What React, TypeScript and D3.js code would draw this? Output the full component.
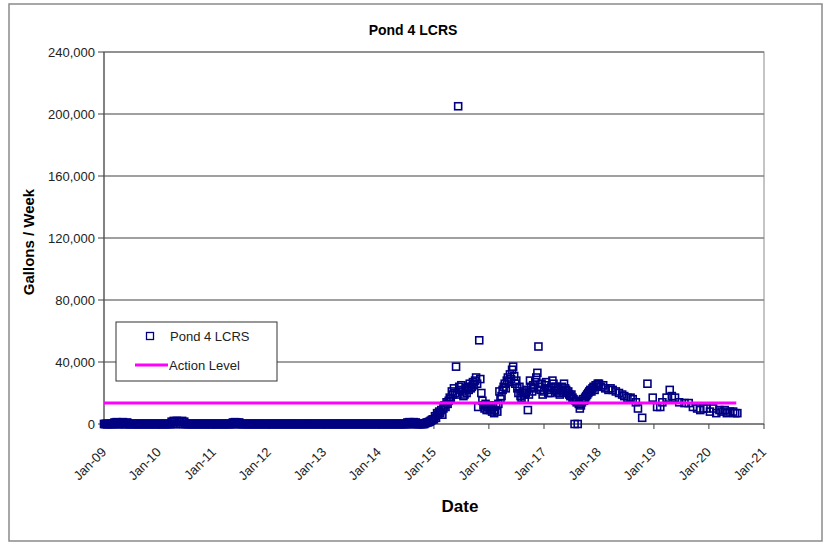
import * as d3 from 'd3'

const WIDTH = 830
const HEIGHT = 545
const MARGIN = { top: 52, right: 66, bottom: 121, left: 104 }
const FONT = '"Liberation Sans", Arial, sans-serif'

const TITLE = 'Pond 4 LCRS'
const Y_TITLE = 'Gallons / Week'
const X_TITLE = 'Date'
const SERIES_NAME = 'Pond 4 LCRS'
const ACTION_NAME = 'Action Level'

const yTicks = [0, 40000, 80000, 120000, 160000, 200000, 240000]
const xTickYears = [2009, 2010, 2011, 2012, 2013, 2014, 2015, 2016, 2017, 2018, 2019, 2020, 2021]

const ACTION_LEVEL = 13500
const actionYears = [2009.0, 2020.5]

// weekly flow readings, one value per week of the year
const weekly2009 = [
  0, 0, 0, 0, 0, 0, 0, 0, 0, 0, 1000, 0, 1200,
  0, 0, 0, 1000, 0, 1200, 0, 0, 0, 1000, 0, 0, 0,
  0, 0, 0, 0, 0, 0, 0, 0, 0, 0, 0, 0, 0,
  0, 0, 0, 0, 0, 0, 0, 0, 0, 0, 0, 0, 0,
]
const weekly2010 = [
  0, 0, 0, 0, 0, 0, 0, 0, 0, 0, 0, 0, 1500,
  0, 2000, 1500, 0, 2000, 0, 1800, 1500, 0, 2000, 0, 1500, 0,
  0, 0, 0, 0, 0, 0, 0, 0, 0, 0, 0, 0, 0,
  0, 0, 0, 0, 0, 0, 0, 0, 0, 0, 0, 0, 0,
]
const weekly2011 = [
  0, 0, 0, 0, 0, 0, 0, 0, 0, 0, 0, 0, 0,
  0, 0, 0, 0, 0, 1000, 0, 1200, 0, 1000, 0, 1000, 0,
  0, 0, 0, 0, 0, 0, 0, 0, 0, 0, 0, 0, 0,
  0, 0, 0, 0, 0, 0, 0, 0, 0, 0, 0, 0, 0,
]
const weekly2012 = [
  0, 0, 0, 0, 0, 0, 0, 0, 0, 0, 0, 0, 0,
  0, 0, 0, 0, 0, 0, 0, 0, 0, 0, 0, 0, 0,
  0, 0, 0, 0, 0, 0, 0, 0, 0, 0, 0, 0, 0,
  0, 0, 0, 0, 0, 0, 0, 0, 0, 0, 0, 0, 0,
]
const weekly2013 = [
  0, 0, 0, 0, 0, 0, 0, 0, 0, 0, 0, 0, 0,
  0, 0, 0, 0, 0, 0, 0, 0, 0, 0, 0, 0, 0,
  0, 0, 0, 0, 0, 0, 0, 0, 0, 0, 0, 0, 0,
  0, 0, 0, 0, 0, 0, 0, 0, 0, 0, 0, 0, 0,
]
const weekly2014 = [
  0, 0, 0, 0, 0, 0, 0, 0, 0, 0, 0, 0, 0,
  0, 0, 0, 0, 0, 0, 0, 0, 0, 0, 0, 0, 0,
  0, 1000, 0, 1200, 0, 1000, 0, 1200, 0, 1000, 0, 0, 0,
  0, 0, 0, 0, 0, 500, 800, 1000, 1200, 1500, 2000, 2500, 3000,
]
const weekly2015 = [
  3000, 5000, 4000, 7000, 6000, 8000, 7000, 9000, 6000, 10000, 12000, 11000, 14000,
  13000, 15000, 17000, 16000, 21000, 19000, 23000, 20000, 37000, 19000, 205000, 24000, 22000,
  25000, 21000, 18000, 19000, 23000, 20000, 24000, 22000, 26000, 23000, 24000, 27000, 25000,
  28000, 30000, 26000, 11000, 54000, 29000, 20000, 15000, 12000, 10000, 13000, 9000, 11000,
]
const weekly2016 = [
  12000, 9000, 10000, 8000, 11000, 7000, 9000, 12000, 8000, 13000, 21000, 16000, 18000,
  22000, 24000, 26000, 23000, 28000, 30000, 27000, 32000, 29000, 35000, 37000, 31000, 26000,
  28000, 23000, 20000, 24000, 18000, 17000, 21000, 19000, 16000, 20000, 22000, 9000, 19000,
  28000, 24000, 21000, 25000, 23000, 27000, 30000, 33000, 50000, 24000, 22000, 26000, 19000,
]
const weekly2017 = [
  21000, 25000, 27000, 23000, 20000, 22000, 20000, 24000, 28000, 26000, 22000, 24000, 21000,
  23000, 20000, 19000, 22000, 24000, 21000, 26000, 23000, 22000, 20000, 21000, 19000, 18000,
  19000, 17000, 16000, 0, 15000, 14000, 0, 13000, 10000, 12000, 14000, 16000, 15000,
  17000, 18000, 19000, 20000, 21000, 22000, 21000, 23000, 24000, 22000, 25000, 24000, 26000,
]
// later years were read less often: [week of year, gallons]
const readings2018 = [
  [0, 26000], [2, 24000], [4, 25000], [6, 23000], [9, 22000], [11, 23000], [13, 22000],
  [16, 21000], [19, 20000], [22, 19000], [24, 18000], [27, 17000], [30, 17000], [32, 16000],
  [35, 14000], [37, 10000], [41, 4000], [46, 26000], [51, 17000],
]
const readings2019 = [
  [3, 11000], [6, 11000], [8, 14000], [12, 17000], [15, 22000], [17, 18000], [20, 17000],
  [24, 14000], [29, 13500], [33, 13500], [37, 11000], [41, 10000], [44, 9000], [47, 10000],
  [50, 10000],
]
const readings2020 = [
  [1, 8000], [4, 10000], [7, 7000], [10, 9000], [12, 8000], [15, 9000], [17, 7000],
  [20, 8000], [23, 8000], [25, 7000], [27, 7000],
]

const weeklyByYear: [number, number[]][] = [
  [2009, weekly2009], [2010, weekly2010], [2011, weekly2011], [2012, weekly2012],
  [2013, weekly2013], [2014, weekly2014], [2015, weekly2015], [2016, weekly2016],
  [2017, weekly2017],
]
const sparseByYear: [number, number[][]][] = [
  [2018, readings2018], [2019, readings2019], [2020, readings2020],
]

const weekDate = (year: number, week: number) => new Date(year, 0, 1 + 7 * week)
const yearDate = (y: number) => new Date(Math.floor(y), Math.round((y % 1) * 12), 1)

export default function App() {
  const points: { date: Date; value: number }[] = []
  weeklyByYear.forEach(([year, vals]) =>
    vals.forEach((v, i) => points.push({ date: weekDate(year, i), value: v }))
  )
  sparseByYear.forEach(([year, rows]) =>
    rows.forEach(([w, v]) => points.push({ date: weekDate(year, w), value: v }))
  )

  const innerWidth = WIDTH - MARGIN.left - MARGIN.right
  const innerHeight = HEIGHT - MARGIN.top - MARGIN.bottom

  const xScale = d3.scaleTime()
    .domain([new Date(2009, 0, 1), new Date(2021, 0, 1)])
    .range([0, innerWidth])

  const yScale = d3.scaleLinear()
    .domain([0, 240000])
    .range([innerHeight, 0])

  const fmtY = d3.format(',')
  const fmtX = d3.timeFormat('%b-%y')
  const size = 7

  return (
    <svg
      width={WIDTH}
      height={HEIGHT}
      style={{ position: 'absolute', left: 0, top: 0, background: '#fff' }}
      fontFamily={FONT}
    >
      {/* outer chart border */}
      <rect x={9} y={4} width={813} height={537} fill="#fff" stroke="#8a8a8a" strokeWidth={1.5} />

      <text x={413} y={35} textAnchor="middle" fontSize={14} fontWeight="bold" fill="#000">
        {TITLE}
      </text>

      <g transform={`translate(${MARGIN.left}, ${MARGIN.top})`}>
        {/* plot area border */}
        <rect x={0} y={0} width={innerWidth} height={innerHeight} fill="none" stroke="#8a8a8a" strokeWidth={1} />

        {/* gridlines + y labels */}
        {yTicks.map(t => (
          <g key={t}>
            {t > 0 && (
              <line x1={0} x2={innerWidth} y1={yScale(t)} y2={yScale(t)} stroke="#808080" strokeWidth={1.5} />
            )}
            <line x1={-6} x2={0} y1={yScale(t)} y2={yScale(t)} stroke="#404040" strokeWidth={1} />
            <text x={-9} y={yScale(t)} dy="0.35em" textAnchor="end" fontSize={13} fill="#222">
              {fmtY(t)}
            </text>
          </g>
        ))}

        {/* axes */}
        <line x1={0} x2={0} y1={0} y2={innerHeight} stroke="#404040" strokeWidth={1} />
        <line x1={0} x2={innerWidth} y1={innerHeight} y2={innerHeight} stroke="#404040" strokeWidth={1} />

        {xTickYears.map(yr => {
          const x = xScale(new Date(yr, 0, 1))
          return (
            <g key={yr}>
              <line x1={x} x2={x} y1={innerHeight} y2={innerHeight + 5} stroke="#404040" strokeWidth={1} />
              <text
                transform={`translate(${x + 3}, ${innerHeight + 29}) rotate(-45)`}
                textAnchor="end"
                fontSize={13}
                fill="#222"
              >
                {fmtX(new Date(yr, 0, 1))}
              </text>
            </g>
          )
        })}

        {/* LCRS readings */}
        {points.map((p, i) => (
          <rect
            key={i}
            x={xScale(p.date) - size / 2}
            y={yScale(p.value) - size / 2}
            width={size}
            height={size}
            fill="none"
            stroke="#000080"
            strokeWidth={1.6}
          />
        ))}

        {/* action level */}
        <line
          x1={xScale(yearDate(actionYears[0]))}
          x2={xScale(yearDate(actionYears[1]))}
          y1={yScale(ACTION_LEVEL)}
          y2={yScale(ACTION_LEVEL)}
          stroke="#ff00ff"
          strokeWidth={3}
        />
      </g>

      {/* axis titles */}
      <text
        transform={`translate(34, ${MARGIN.top + innerHeight / 2 + 4}) rotate(-90)`}
        textAnchor="middle"
        fontSize={15}
        fontWeight="bold"
        fill="#000"
      >
        {Y_TITLE}
      </text>
      <text x={460} y={512} textAnchor="middle" fontSize={17} fontWeight="bold" fill="#000">
        {X_TITLE}
      </text>

      {/* legend */}
      <g transform="translate(116, 322)">
        <rect x={0} y={0} width={161} height={59} fill="#fff" stroke="#333" strokeWidth={1} />
        <rect x={34 - size / 2} y={14 - size / 2} width={size} height={size} fill="none" stroke="#000080" strokeWidth={1.3} />
        <text x={54} y={18.5} fontSize={13} fill="#222">{SERIES_NAME}</text>
        <line x1={19} x2={52} y1={43} y2={43} stroke="#ff00ff" strokeWidth={3} />
        <text x={53} y={47.5} fontSize={13} fill="#222">{ACTION_NAME}</text>
      </g>
    </svg>
  )
}
